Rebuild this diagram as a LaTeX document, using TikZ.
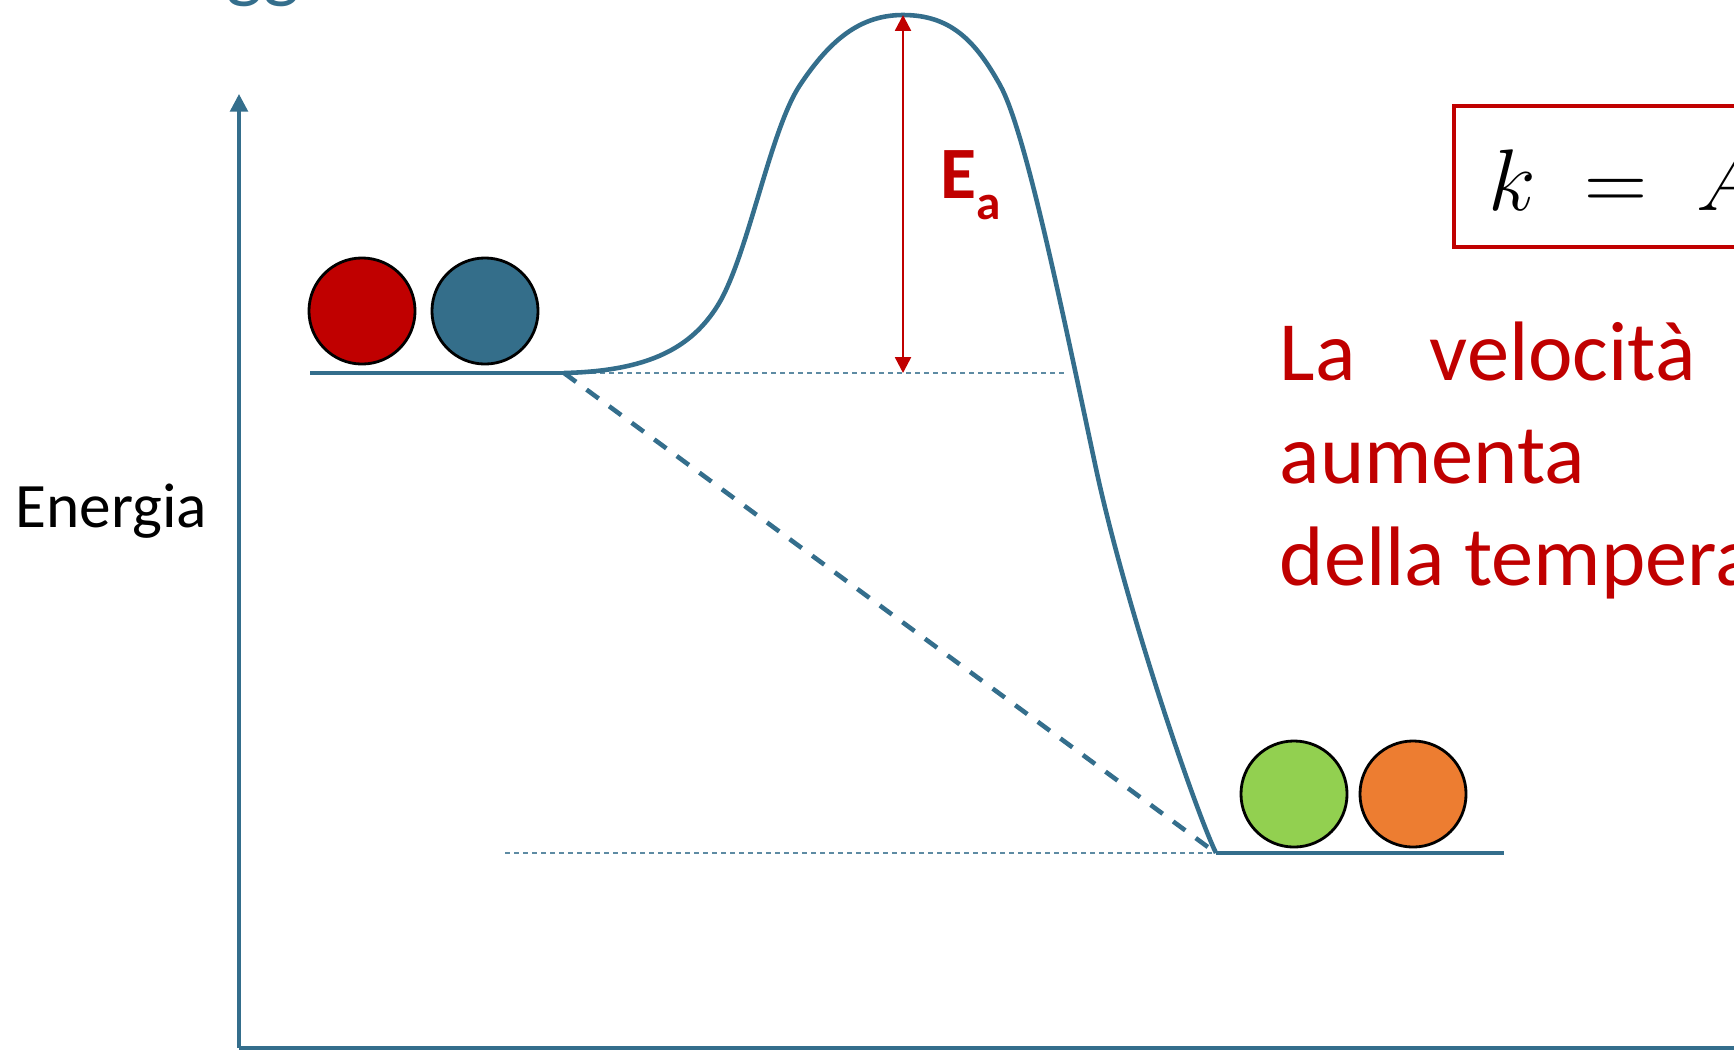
\documentclass[tikz,border=0pt]{standalone}
\usepackage{fontspec}
\setmainfont{Carlito}
\usetikzlibrary{arrows.meta}

\definecolor{curveblue}{RGB}{52,110,140}
\definecolor{molred}{RGB}{192,0,0}
\definecolor{molblue}{RGB}{52,110,138}
\definecolor{molgreen}{RGB}{146,208,80}
\definecolor{molorange}{RGB}{237,125,49}

\tikzset{
  axis/.style={curveblue, line width=1pt},
  level/.style={curveblue, line width=1.3pt},
  guide/.style={curveblue!80, line width=0.4pt, dash pattern=on 0.05cm off 0.04cm},
  mol/.style={circle, draw=black, line width=0.8pt, minimum size=1.06cm, inner sep=0pt},
  eaarrow/.style={molred, line width=0.7pt, {Triangle[width=4.5pt,length=4.5pt]}-{Triangle[width=4.5pt,length=4.5pt]}}
}

\begin{document}
\begin{tikzpicture}[x=0.01cm, y=-0.01cm]
  \clip (0,0) rectangle (1734,1054);

  %points of the diagram
  \coordinate (O) at (239,1048);
  \coordinate (Ytop) at (239,94);
  \coordinate (Xend) at (1740,1048);
  \coordinate (R) at (564,373);
  \coordinate (Rstart) at (310,373);
  \coordinate (P) at (1216,853);
  \coordinate (Pend) at (1504,853);
  \coordinate (TS) at (903,15);
  \coordinate (Ebase) at (903,373);
  \coordinate (Rguide) at (1067,373);
  \coordinate (Pguide) at (505,853);

  %axes
  \draw[axis, -{Triangle[width=5pt,length=5pt]}] (O) -- (Ytop);
  \draw[axis] (O) -- (Xend);
  \node[anchor=base west, inner sep=0pt, font=\fontsize{18}{18}\selectfont] (energia) at (15,527) {Energia};
  \node[anchor=base west, inner sep=0pt, text=curveblue, font=\fontsize{22}{22}\selectfont] (title) at (226,-7) {gg};

  %guides
  \draw[guide] (R) -- (Rguide);
  \draw[guide] (Pguide) -- (P);

  %levels
  \draw[level] (Rstart) -- (R);
  \draw[level] (P) -- (Pend);
  \draw[level, dash pattern=on 0.15cm off 0.13cm] (R) -- (P);

  %reaction path
  \draw[level] (R) .. controls (650,371) and (692,347) .. (718,305)
    .. controls (748,256) and (770,130) .. (800,85)
    .. controls (830,40) and (860,15) .. (TS)
    .. controls (950,15) and (975,40) .. (1000,85)
    .. controls (1025,130) and (1060,300) .. (1095,464)
    .. controls (1125,605) and (1195,810) .. (P);

  %activation energy
  \draw[eaarrow] (Ebase) -- (TS);
  \node[anchor=base west, inner sep=0pt, text=molred, font=\bfseries\fontsize{21}{21}\selectfont] (ea) at (940,198) {E{\fontsize{14}{14}\selectfont\raisebox{-6pt}{a}}};

  %molecules
  \node[mol, fill=molred] (r1) at (362,311) {};
  \node[mol, fill=molblue] (r2) at (485,311) {};
  \node[mol, fill=molgreen] (p1) at (1294,794) {};
  \node[mol, fill=molorange] (p2) at (1413,794) {};

  %formula box
  \draw[molred, line width=1pt] (1454,106) rectangle (1760,247);
  \node[anchor=base west, inner sep=0pt, font=\fontsize{28}{28}\selectfont] (formula) at (1488,210) {$k \;=\; A$};

  %text on the right
  \node[anchor=base west, inner sep=0pt, text=molred, font=\fontsize{24}{29}\selectfont] (line1) at (1279,380) {La\hspace{0.74cm}velocità};
  \node[anchor=base west, inner sep=0pt, text=molred, font=\fontsize{24}{29}\selectfont] (line2) at (1279,483) {aumenta};
  \node[anchor=base west, inner sep=0pt, text=molred, font=\fontsize{24}{29}\selectfont] (line3) at (1279,585) {della tempera};
\end{tikzpicture}
\end{document}
